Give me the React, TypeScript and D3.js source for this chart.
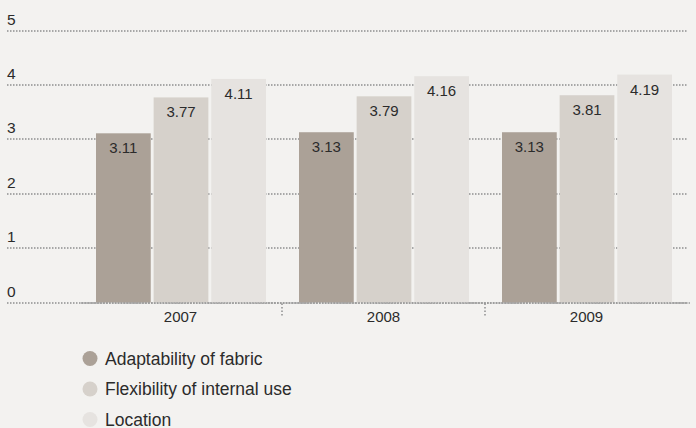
import React from "react";
import * as d3 from "d3";

const years = ["2007", "2008", "2009"];
const seriesNames = ["Adaptability of fabric", "Flexibility of internal use", "Location"];
const adaptability = [3.11, 3.13, 3.13];
const flexibility = [3.77, 3.79, 3.81];
const location = [4.11, 4.16, 4.19];
const yTicks = [0, 1, 2, 3, 4, 5];

const colors = ["#aba197", "#d6d1cb", "#e6e3e0"];
const W = 696;
const H = 428;
const FONT = "'Liberation Sans', Arial, Helvetica, sans-serif";
const TEXT = "#2b2b2b";
const GRID = "#8e8e8e";

export default function App() {
  const series = [adaptability, flexibility, location];
  const y = d3.scaleLinear().domain([0, 5]).range([302.5, 30.5]);
  const x0 = d3.scaleBand<string>().domain(years).range([79, 688]);
  const x1 = d3
    .scaleBand<number>()
    .domain(d3.range(series.length))
    .range([17, x0.bandwidth() - 16])
    .paddingInner(0.05);

  const boundaries = years.slice(1).map((yr) => x0(yr) as number);

  return (
    <svg
      width={W}
      height={H}
      style={{ position: "absolute", left: 0, top: 0, display: "block" }}
      fontFamily={FONT}
    >
      <rect width={W} height={H} fill="#f3f2f0" />

      {/* grid lines and value axis labels */}
      {yTicks.map((t) => (
        <g key={t}>
          <line
            x1={7}
            x2={687}
            y1={Math.round(y(t))}
            y2={Math.round(y(t))}
            stroke={GRID}
            strokeWidth={1.5}
            strokeDasharray="1.5 1.5"
          />
          <text x={7} y={y(t) - 6} fontSize={15.5} fill={TEXT}>
            {t}
          </text>
        </g>
      ))}

      {/* bars */}
      {years.map((yr, i) => (
        <g key={yr} transform={`translate(${x0(yr)},0)`}>
          {series.map((s, j) => (
            <rect
              key={j}
              x={x1(j)}
              y={y(s[i])}
              width={x1.bandwidth()}
              height={y(0) - y(s[i])}
              fill={colors[j]}
            />
          ))}
        </g>
      ))}

      {/* category axis baseline */}
      <line
        x1={81}
        x2={690}
        y1={Math.round(y(0))}
        y2={Math.round(y(0))}
        stroke="#9a9a9a"
        strokeWidth={1.6}
        strokeDasharray="1.8 1"
      />
      {boundaries.map((bx) => (
        <line
          key={bx}
          x1={bx}
          x2={bx}
          y1={y(0) + 1}
          y2={y(0) + 14}
          stroke={GRID}
          strokeWidth={1.5}
          strokeDasharray="1.5 2"
        />
      ))}

      {/* value labels */}
      {years.map((yr, i) => (
        <g key={yr} transform={`translate(${x0(yr)},0)`}>
          {series.map((s, j) => (
            <text
              key={j}
              x={(x1(j) as number) + x1.bandwidth() / 2}
              y={y(s[i]) + 20}
              textAnchor="middle"
              fontSize={15}
              fill={TEXT}
            >
              {s[i].toFixed(2)}
            </text>
          ))}
        </g>
      ))}

      {/* year labels */}
      {years.map((yr) => (
        <text
          key={yr}
          x={(x0(yr) as number) + x0.bandwidth() / 2}
          y={322}
          textAnchor="middle"
          fontSize={15}
          fill={TEXT}
        >
          {yr}
        </text>
      ))}

      {/* legend */}
      {seriesNames.map((name, j) => (
        <g key={name} transform={`translate(90,${358.5 + j * 30.5})`}>
          <circle r={7.5} fill={colors[j]} />
          <text x={15} y={6} fontSize={17.5} fill={TEXT}>
            {name}
          </text>
        </g>
      ))}
    </svg>
  );
}
